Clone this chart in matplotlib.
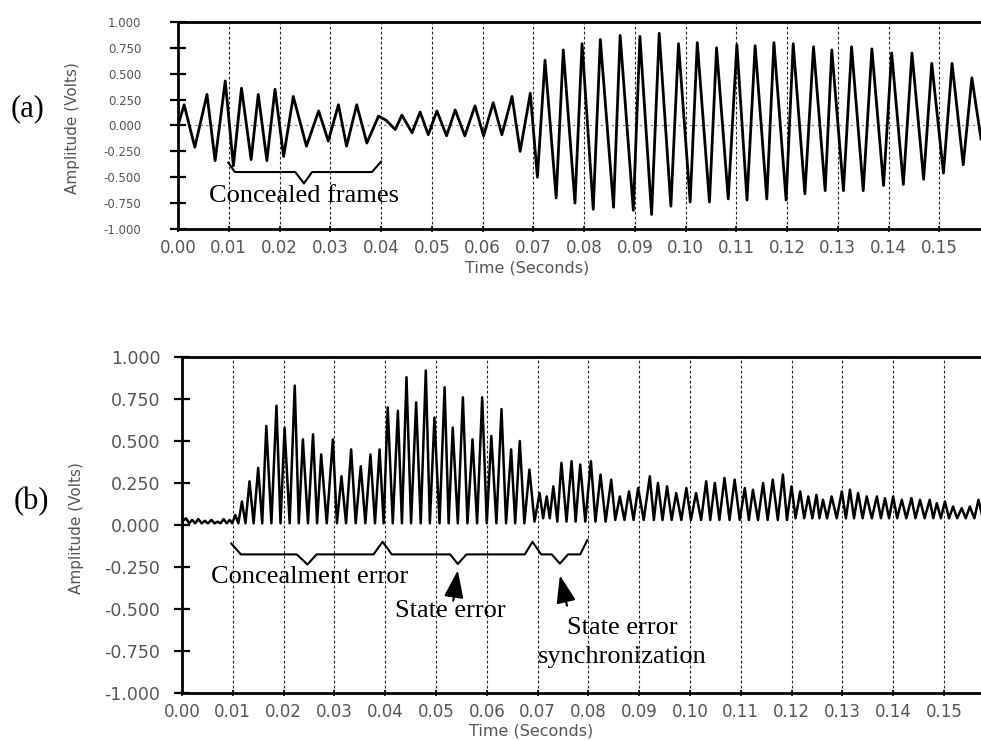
import matplotlib
matplotlib.use("Agg")
import matplotlib.pyplot as plt
from matplotlib.ticker import FormatStrFormatter, MultipleLocator

INK = "#000000"
GREY = "#555555"
SERIF = "Liberation Serif"
SANS = "DejaVu Sans"

plt.rcParams.update({
    "font.family": SANS,
    "axes.unicode_minus": False,
})

# ---- panel (a): original speech waveform, peaks/troughs
a_t = [0.0000, 0.0012, 0.0033, 0.0057, 0.0073, 0.0093, 0.0109, 0.0125, 0.0144, 0.0158,
       0.0175, 0.0191, 0.0208, 0.0227, 0.0253, 0.0277, 0.0296, 0.0316, 0.0332, 0.0352,
       0.0372, 0.0395, 0.0410, 0.0428, 0.0441, 0.0461, 0.0477, 0.0493, 0.0510, 0.0529,
       0.0546, 0.0565, 0.0585, 0.0602, 0.0621, 0.0638, 0.0658, 0.0674, 0.0694, 0.0708,
       0.0723, 0.0745, 0.0759, 0.0782, 0.0796, 0.0818, 0.0832, 0.0858, 0.0871, 0.0897,
       0.0910, 0.0933, 0.0948, 0.0971, 0.0986, 0.1009, 0.1023, 0.1047, 0.1061, 0.1084,
       0.1101, 0.1121, 0.1137, 0.1160, 0.1174, 0.1198, 0.1212, 0.1235, 0.1252, 0.1275,
       0.1288, 0.1311, 0.1327, 0.1350, 0.1367, 0.1390, 0.1406, 0.1429, 0.1446, 0.1469,
       0.1485, 0.1508, 0.1525, 0.1547, 0.1564, 0.1582]
a_v = [0.00, 0.20, -0.21, 0.30, -0.34, 0.43, -0.39, 0.36, -0.33, 0.30,
       -0.34, 0.35, -0.30, 0.28, -0.20, 0.14, -0.15, 0.20, -0.20, 0.20,
       -0.17, 0.09, 0.05, -0.04, 0.10, -0.07, 0.13, -0.09, 0.14, -0.10,
       0.15, -0.10, 0.19, -0.10, 0.22, -0.09, 0.28, -0.25, 0.31, -0.50,
       0.63, -0.70, 0.73, -0.75, 0.79, -0.81, 0.83, -0.79, 0.87, -0.82,
       0.86, -0.86, 0.89, -0.78, 0.79, -0.74, 0.80, -0.74, 0.75, -0.71,
       0.78, -0.72, 0.77, -0.71, 0.80, -0.72, 0.79, -0.66, 0.76, -0.63,
       0.73, -0.63, 0.76, -0.63, 0.74, -0.58, 0.70, -0.57, 0.70, -0.52,
       0.60, -0.46, 0.60, -0.38, 0.46, -0.13]

# ---- panel (b): error signal, spike peaks and the dips between them
b_t = [0.0000, 0.0008, 0.0014, 0.0020, 0.0026, 0.0032, 0.0039, 0.0045, 0.0051, 0.0058,
       0.0064, 0.0070, 0.0076, 0.0082, 0.0088, 0.0094, 0.0099, 0.0105, 0.0111, 0.0118,
       0.0125, 0.0133, 0.0141, 0.0150, 0.0158, 0.0166, 0.0176, 0.0186, 0.0194, 0.0202,
       0.0212, 0.0222, 0.0230, 0.0238, 0.0248, 0.0258, 0.0266, 0.0274, 0.0285, 0.0297,
       0.0305, 0.0314, 0.0323, 0.0333, 0.0342, 0.0352, 0.0361, 0.0371, 0.0380, 0.0389,
       0.0397, 0.0405, 0.0415, 0.0425, 0.0433, 0.0442, 0.0451, 0.0461, 0.0470, 0.0480,
       0.0488, 0.0497, 0.0507, 0.0517, 0.0525, 0.0533, 0.0543, 0.0553, 0.0562, 0.0572,
       0.0581, 0.0591, 0.0600, 0.0609, 0.0619, 0.0629, 0.0638, 0.0648, 0.0656, 0.0665,
       0.0674, 0.0684, 0.0694, 0.0704, 0.0711, 0.0718, 0.0724, 0.0731, 0.0739, 0.0747,
       0.0757, 0.0767, 0.0775, 0.0784, 0.0794, 0.0805, 0.0814, 0.0824, 0.0834, 0.0845,
       0.0853, 0.0862, 0.0871, 0.0880, 0.0889, 0.0898, 0.0909, 0.0921, 0.0929, 0.0937,
       0.0946, 0.0955, 0.0964, 0.0973, 0.0983, 0.0993, 0.1002, 0.1012, 0.1022, 0.1032,
       0.1040, 0.1049, 0.1058, 0.1068, 0.1078, 0.1088, 0.1098, 0.1108, 0.1116, 0.1124,
       0.1134, 0.1144, 0.1153, 0.1163, 0.1173, 0.1183, 0.1191, 0.1200, 0.1208, 0.1217,
       0.1225, 0.1233, 0.1241, 0.1249, 0.1255, 0.1262, 0.1270, 0.1279, 0.1289, 0.1299,
       0.1307, 0.1315, 0.1323, 0.1331, 0.1340, 0.1348, 0.1358, 0.1368, 0.1376, 0.1384,
       0.1392, 0.1400, 0.1408, 0.1417, 0.1426, 0.1436, 0.1444, 0.1453, 0.1462, 0.1472,
       0.1479, 0.1486, 0.1494, 0.1502, 0.1510, 0.1518, 0.1526, 0.1535, 0.1543, 0.1551,
       0.1560, 0.1568, 0.1575]
b_v = [0.02, 0.04, 0.01, 0.03, 0.01, 0.035, 0.01, 0.025, 0.01, 0.03,
       0.01, 0.02, 0.01, 0.035, 0.01, 0.03, 0.01, 0.06, 0.01, 0.14,
       0.01, 0.26, 0.01, 0.34, 0.01, 0.59, 0.01, 0.71, 0.01, 0.58,
       0.01, 0.83, 0.01, 0.51, 0.01, 0.54, 0.01, 0.42, 0.01, 0.51,
       0.01, 0.29, 0.01, 0.45, 0.01, 0.35, 0.01, 0.42, 0.01, 0.45,
       0.01, 0.70, 0.01, 0.68, 0.01, 0.88, 0.01, 0.73, 0.01, 0.92,
       0.01, 0.64, 0.01, 0.82, 0.01, 0.58, 0.01, 0.76, 0.01, 0.51,
       0.01, 0.76, 0.01, 0.53, 0.01, 0.69, 0.01, 0.45, 0.01, 0.50,
       0.01, 0.33, 0.02, 0.19, 0.04, 0.17, 0.04, 0.23, 0.02, 0.37,
       0.02, 0.38, 0.02, 0.36, 0.02, 0.38, 0.02, 0.30, 0.02, 0.27,
       0.03, 0.17, 0.03, 0.20, 0.03, 0.22, 0.03, 0.29, 0.03, 0.25,
       0.03, 0.23, 0.03, 0.19, 0.03, 0.22, 0.03, 0.19, 0.03, 0.26,
       0.03, 0.25, 0.03, 0.28, 0.03, 0.27, 0.03, 0.22, 0.03, 0.21,
       0.03, 0.25, 0.03, 0.27, 0.03, 0.30, 0.03, 0.23, 0.04, 0.20,
       0.04, 0.17, 0.04, 0.18, 0.04, 0.15, 0.04, 0.17, 0.04, 0.20,
       0.04, 0.21, 0.04, 0.19, 0.04, 0.17, 0.04, 0.17, 0.04, 0.16,
       0.04, 0.17, 0.04, 0.15, 0.04, 0.16, 0.04, 0.15, 0.04, 0.15,
       0.04, 0.13, 0.04, 0.14, 0.04, 0.11, 0.04, 0.10, 0.04, 0.11,
       0.04, 0.15, 0.06]

X_TICKS = [0.00, 0.01, 0.02, 0.03, 0.04, 0.05, 0.06, 0.07, 0.08,
           0.09, 0.10, 0.11, 0.12, 0.13, 0.14, 0.15]

# braces under the traces (annotation geometry, data coords)
brace_a_t = [0.0099, 0.0112, 0.0231, 0.0248, 0.0264, 0.0382, 0.0400]
brace_a_v = [-0.36, -0.45, -0.45, -0.56, -0.45, -0.45, -0.35]
brace_b_t = [0.0097, 0.0116, 0.0226, 0.0247, 0.0265, 0.0377, 0.0395, 0.0413,
             0.0528, 0.0543, 0.0560, 0.0675, 0.0690, 0.0707, 0.0728, 0.0744,
             0.0760, 0.0784, 0.0798]
brace_b_v = [-0.11, -0.175, -0.175, -0.235, -0.175, -0.175, -0.10, -0.175,
             -0.175, -0.232, -0.175, -0.175, -0.10, -0.175, -0.175, -0.23,
             -0.175, -0.175, -0.09]


def _frame(ax, xmax, ylab_size, ylab_pad):
    ax.set_xlim(0, xmax)
    ax.set_ylim(-1.0, 1.0)
    for s in ("left", "bottom", "top"):
        ax.spines[s].set_linewidth(2.0)
        ax.spines[s].set_color(INK)
    ax.spines["right"].set_visible(False)
    ax.yaxis.set_major_locator(MultipleLocator(0.25))
    ax.yaxis.set_major_formatter(FormatStrFormatter("%.3f"))
    ax.set_xticks(X_TICKS)
    ax.set_xticklabels([f"{x:.2f}" for x in X_TICKS])
    ax.tick_params(axis="y", direction="inout", length=11, width=1.6,
                   color=INK, labelsize=ylab_size, labelcolor=GREY, pad=ylab_pad)
    ax.tick_params(axis="x", direction="inout", length=5, width=1.2,
                   color=INK, labelsize=12, labelcolor=GREY, pad=5)
    for x in X_TICKS[1:]:
        ax.axvline(x, color="#222222", lw=0.8, ls=(0, (2.5, 2.0)), zorder=1)


fig = plt.figure(figsize=(9.81, 7.41), dpi=100)

# ---------------- (a)
ax_a = fig.add_axes([0.1815, 0.6910, 0.8185, 0.2794])
_frame(ax_a, 0.1582, 8.5, 21)
ax_a.axhline(0, color="#777777", lw=0.8, ls=(0, (2, 3)), zorder=1)
ax_a.plot(a_t, a_v, color=INK, lw=2.0, zorder=3)
ax_a.plot(brace_a_t, brace_a_v, color=INK, lw=1.5, zorder=3)
ax_a.text(0.0248, -0.68, "Concealed frames", family=SERIF, fontsize=19,
          ha="center", va="center", zorder=4)

# ---------------- (b)
ax_b = fig.add_axes([0.1855, 0.0648, 0.8145, 0.4534])
_frame(ax_b, 0.1573, 12.5, 10)
ax_b.plot(b_t, b_v, color=INK, lw=1.8, zorder=3)
ax_b.plot(brace_b_t, brace_b_v, color=INK, lw=1.5, zorder=3)
ax_b.text(0.0252, -0.31, "Concealment error", family=SERIF, fontsize=19,
          ha="center", va="center", zorder=4)
ax_b.text(0.0528, -0.51, "State error", family=SERIF, fontsize=19,
          ha="center", va="center", zorder=4)
ax_b.text(0.0866, -0.70, "State error\nsynchronization", family=SERIF,
          fontsize=19, ha="center", va="center", linespacing=1.4, zorder=4)
for tip, tail in [((0.0543, -0.27), (0.0534, -0.45)),
                  ((0.0744, -0.30), (0.0758, -0.48))]:
    ax_b.annotate("", xy=tip, xytext=tail,
                  arrowprops=dict(arrowstyle="-|>,head_length=1.4,head_width=0.5",
                                  color=INK, lw=1.5, mutation_scale=12,
                                  shrinkA=0, shrinkB=0), zorder=4)

# ---------------- labels
fig.text(0.028, 1 - 109 / 741, "(a)", family=SERIF, fontsize=22,
         ha="center", va="center")
fig.text(0.032, 1 - 502 / 741, "(b)", family=SERIF, fontsize=22,
         ha="center", va="center")
fig.text(73 / 981, 1 - 128 / 741, "Amplitude (Volts)", rotation=90,
         fontsize=11, color=GREY, ha="center", va="center")
fig.text(77 / 981, 1 - 528 / 741, "Amplitude (Volts)", rotation=90,
         fontsize=11, color=GREY, ha="center", va="center")
fig.text(527 / 981, 1 - 268 / 741, "Time (Seconds)", fontsize=11.5,
         color=GREY, ha="center", va="center")
fig.text(531 / 981, 1 - 731 / 741, "Time (Seconds)", fontsize=11.5,
         color=GREY, ha="center", va="center")

fig.savefig("out.png", dpi=100, facecolor="white")
plt.close(fig)
print("[plot] saved → out.png")
